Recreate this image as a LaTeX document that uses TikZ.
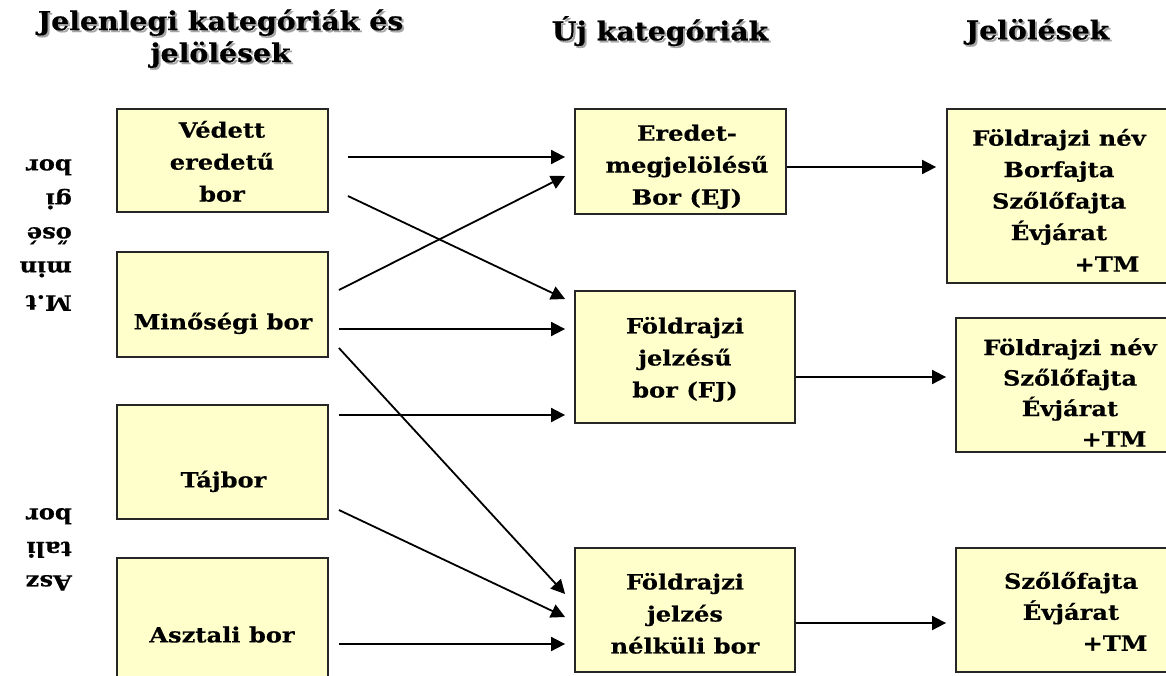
\documentclass[tikz,border=0pt]{standalone}
\usepackage{fontspec}
\setmainfont{DejaVu Serif}
\newfontfamily\bxfont{DejaVu Serif}[FakeStretch=1.15,FakeBold=0.4]
\newfontfamily\hdfont{DejaVu Serif}[FakeStretch=1.09,FakeBold=0.5]
\usetikzlibrary{arrows.meta,calc}
\definecolor{boxfill}{RGB}{255,255,204}
\tikzset{
  box/.style={draw=black!85, line width=1.8pt, fill=boxfill, inner sep=0pt},
  txt/.style={align=center, font=\bxfont\bfseries\fontsize{21}{32}\selectfont, inner sep=0pt,
    execute at begin node=\strut, execute at end node=\strut},
  side/.style={align=left, font=\bxfont\bfseries\fontsize{21}{34}\selectfont, inner sep=0pt, rotate=180, anchor=west,
    execute at begin node=\strut, execute at end node=\strut},
  head/.style={align=center, font=\hdfont\bfseries\fontsize{26}{32}\selectfont, inner sep=0pt,
    execute at begin node=\strut, execute at end node=\strut},
  shadow/.style={head, text=black!35},
  arr/.style={line width=1.8pt, -{Triangle[length=14pt,width=14pt]}}
}
\begin{document}
\begin{tikzpicture}[x=1pt,y=-1pt]
\useasboundingbox (0,0) rectangle (1166,675);
\clip (0,0) rectangle (1166,675);
% headers
\node[shadow] (h1s) at (222.5,42.5) {Jelenlegi kategóriák és\\jelölések};
\node[head] (h1) at (220.5,40.5) {Jelenlegi kategóriák és\\jelölések};
\node[shadow] (h2s) at (662,35) {Új kategóriák};
\node[head] (h2) at (660,33) {Új kategóriák};
\node[shadow] (h3s) at (1039.5,35) {Jelölések};
\node[head] (h3) at (1037.5,33) {Jelölések};
% side labels
\node[side] (s1) at (72,230) {M.t\\min\\ősé\\gi\\bor};
\node[side, font=\bxfont\bfseries\fontsize{21}{33.5}\selectfont] (s2) at (72,544.5) {Asz\\tali\\bor};
% left boxes
\node[box, minimum width=211pt, minimum height=103pt] (vb) at (222.5,160.5) {};
\node[box, minimum width=211pt, minimum height=105pt] (mb) at (222.5,304.5) {};
\node[box, minimum width=211pt, minimum height=114pt] (tb) at (222.5,462) {};
\node[box, minimum width=211pt, minimum height=142pt] (ab) at (222.5,629) {};
\node[txt] (vbt) at (222,166) {Védett\\eredetű\\bor};
\node[txt] (mbt) at (223,323) {Minőségi bor};
\node[txt] (tbt) at (223.5,481) {Tájbor};
\node[txt] (abt) at (222,636) {Asztali bor};
% middle boxes
\node[box, minimum width=211pt, minimum height=105pt] (ej) at (680.5,161.5) {};
\node[box, minimum width=220pt, minimum height=132pt] (fj) at (685,357) {};
\node[box, minimum width=220pt, minimum height=124pt] (fn) at (685,610) {};
\node[txt] (ejt) at (687,169.5) {Eredet-\\megjelölésű\\Bor (EJ)};
\node[txt] (fjt) at (685,362) {Földrajzi\\jelzésű\\bor (FJ)};
\node[txt] (fnt) at (685,618) {Földrajzi\\jelzés\\nélküli bor};
% right boxes
\node[box, minimum width=240pt, minimum height=174pt] (r1) at (1067,196) {};
\node[box, minimum width=224pt, minimum height=134pt] (r2) at (1068,385) {};
\node[box, minimum width=224pt, minimum height=124pt] (r3) at (1068,610) {};
\node[txt, font=\bxfont\bfseries\fontsize{21}{31.5}\selectfont] (r1t) at (1059,205) {Földrajzi név\\Borfajta\\Szőlőfajta\\Évjárat\\\hspace*{96pt}+TM};
\node[txt, font=\bxfont\bfseries\fontsize{21}{30.5}\selectfont] (r2t) at (1070,397) {Földrajzi név\\Szőlőfajta\\Évjárat\\\hspace*{88pt}+TM};
\node[txt, font=\bxfont\bfseries\fontsize{21}{31}\selectfont] (r3t) at (1071,616) {Szőlőfajta\\Évjárat\\\hspace*{88pt}+TM};
% arrows
\draw[arr] ($(vb.east)+(19,-3.5)$) -- ($(ej.west)+(-9,-4.5)$);
\draw[arr] ($(vb.east)+(19,35.5)$) -- ($(fj.west)+(-9,-58)$);
\draw[arr] ($(mb.east)+(10,-14.5)$) -- ($(ej.west)+(-9,14.5)$);
\draw[arr] ($(mb.east)+(10,24.5)$) -- ($(fj.west)+(-9,-28)$);
\draw[arr] ($(mb.east)+(10,43.5)$) -- ($(fn.west)+(-9,-16)$);
\draw[arr] ($(tb.east)+(10,-47)$) -- ($(fj.west)+(-9,58)$);
\draw[arr] ($(tb.east)+(10,48)$) -- ($(fn.west)+(-9,7)$);
\draw[arr] ($(ab.east)+(10,15)$) -- ($(fn.west)+(-9,34)$);
\draw[arr] ($(ej.east)+(0,5.5)$) -- ($(r1.west)+(-10,-29)$);
\draw[arr] ($(fj.east)+(0,20)$) -- ($(r2.west)+(-9,-8)$);
\draw[arr] ($(fn.east)+(0,13)$) -- ($(r3.west)+(-9,13)$);
\end{tikzpicture}
\end{document}
